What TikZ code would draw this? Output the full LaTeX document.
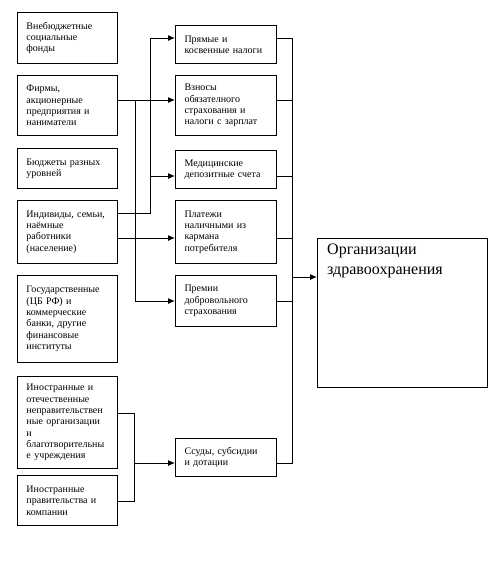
\documentclass[tikz,border=0pt]{standalone}
\usepackage{fontspec}
\setmainfont{Liberation Serif}
\usetikzlibrary{arrows.meta}
\begin{document}
\begin{tikzpicture}[x=1pt,y=-1pt,
  box/.style={draw,line width=1pt,anchor=north west,inner xsep=9pt,inner ysep=0pt,
    align=left,font=\fontsize{10}{11.3}\selectfont},
  lbox/.style={box,text width=82pt},
  mbox/.style={box,text width=83pt},
  ln/.style={line width=1pt},
  arr/.style={ln,-{Latex[length=7pt,width=6pt]}}]
\useasboundingbox (0,0) rectangle (495,565);
% left column
\node[lbox,minimum height=51pt] (l1) at (17,12) {Внебюджетные\\социальные\\фонды};
\node[lbox,minimum height=60pt] (l2) at (17,75) {Фирмы,\\акционерные\\предприятия и\\наниматели};
\node[lbox,minimum height=40pt] (l3) at (17,148) {Бюджеты разных\\уровней};
\node[lbox,minimum height=63pt] (l4) at (17,200) {Индивиды, семьи,\\наёмные\\работники\\(население)};
\node[lbox,minimum height=87pt] (l5) at (17,275) {Государственные\\(ЦБ РФ) и\\коммерческие\\банки, другие\\финансовые\\институты};
\node[lbox,minimum height=92pt] (l6) at (17,376) {Иностранные и\\отечественные\\неправительствен\\ные организации\\и\\благотворительны\\е учреждения};
\node[lbox,minimum height=50pt] (l7) at (17,475) {Иностранные\\правительства и\\компании};
% middle column
\node[mbox,minimum height=38pt] (m1) at (175,25) {Прямые и\\косвенные налоги};
\node[mbox,minimum height=60pt] (m2) at (175,75) {Взносы\\обязателного\\страхования и\\налоги с зарплат};
\node[mbox,minimum height=38pt] (m3) at (175,150) {Медицинские\\депозитные счета};
\node[mbox,minimum height=63pt] (m4) at (175,200) {Платежи\\наличными из\\кармана\\потребителя};
\node[mbox,minimum height=51pt] (m5) at (175,275) {Премии\\добровольного\\страхования};
\node[mbox,minimum height=38pt] (m6) at (175,438) {Ссуды, субсидии\\и дотации};
% right box
\node[draw,line width=1pt,anchor=north west,minimum width=170pt,minimum height=149pt,inner sep=0pt] (org) at (317,238) {};
\node[anchor=north west,align=left,inner sep=0pt,font=\fontsize{16}{20}\selectfont] (orgt) at (327,244) {Организации\\здравоохранения};
% junction coordinates
\coordinate (a1) at (135,100);
\coordinate (a2) at (135,301);
\coordinate (b0) at (150,38);
\coordinate (b1) at (150,213);
\coordinate (b3) at (150,176);
\coordinate (c1) at (150,238);
\coordinate (d1) at (134,413);
\coordinate (d2) at (134,501);
\coordinate (d3) at (134,463);
\coordinate (r1) at (292,38);
\coordinate (r2) at (292,100);
\coordinate (r3) at (292,176);
\coordinate (r4) at (292,238);
\coordinate (r5) at (292,301);
\coordinate (r6) at (292,463);
\coordinate (ro) at (292,277);
% left connectors
\draw[arr] (l2.east|-a1) -- (m2.west|-a1);
\draw[arr] (a1) -- (a2) -- (m5.west|-a2);
\draw[arr] (l4.east|-b1) -- (b1) -- (b0) -- (m1.west|-b0);
\draw[arr] (b3) -- (m3.west|-b3);
\draw[arr] (l4.east|-c1) -- (m4.west|-c1);
\draw[ln] (l6.east|-d1) -- (d1) -- (d2) -- (l7.east|-d2);
\draw[arr] (d3) -- (m6.west|-d3);
% right bus
\draw[ln] (m1.east|-r1) -- (r1) -- (r6) -- (m6.east|-r6);
\draw[ln] (m2.east|-r2) -- (r2);
\draw[ln] (m3.east|-r3) -- (r3);
\draw[ln] (m4.east|-r4) -- (r4);
\draw[ln] (m5.east|-r5) -- (r5);
\draw[arr] (ro) -- (org.west|-ro);
\end{tikzpicture}
\end{document}
